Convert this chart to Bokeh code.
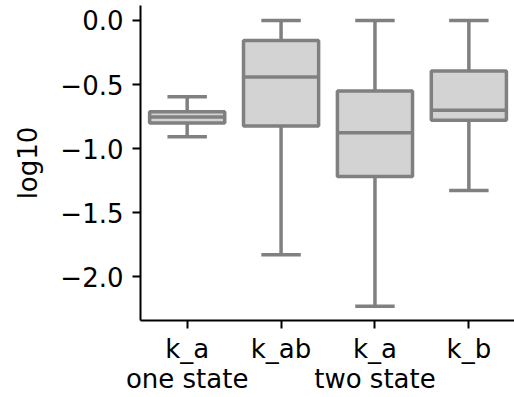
from bokeh.plotting import figure
from bokeh.models import FixedTicker, ColumnDataSource
from bokeh.embed import file_html
from bokeh.resources import INLINE

# ---- data ----
categories = ["k_a\none state", "k_ab", "k_a\ntwo state", "k_b"]
whisker_low = [-0.907, -1.827, -2.229, -1.327]
q1 = [-0.800, -0.824, -1.218, -0.778]
median = [-0.754, -0.441, -0.876, -0.700]
q3 = [-0.713, -0.156, -0.550, -0.394]
whisker_high = [-0.596, 0.0, 0.0, 0.0]
y_ticks = [0.0, -0.5, -1.0, -1.5, -2.0]
y_tick_labels = ["0.0", "\u22120.5", "\u22121.0", "\u22121.5", "\u22122.0"]

pos = list(range(len(categories)))
box_w = 0.8
cap_w = 0.42

src = ColumnDataSource(dict(
    x=pos,
    left=[p - box_w / 2 for p in pos], right=[p + box_w / 2 for p in pos],
    cl=[p - cap_w / 2 for p in pos], cr=[p + cap_w / 2 for p in pos],
    lo=whisker_low, q1=q1, med=median, q3=q3, hi=whisker_high,
))

FONT = "DejaVu Sans"
FS = "26px"
EDGE = "#808080"
FILL = "#d3d3d3"
LW = 3.5

p = figure(width=514, height=397, output_backend="svg", toolbar_location=None,
           x_range=(-0.497, 3.486), y_range=(-2.3406, 0.1166),
           min_border_left=140, min_border_right=0, min_border_top=5,
           min_border_bottom=76)
p.outline_line_color = None
p.grid.visible = False
p.background_fill_color = "white"
p.border_fill_color = "white"

# whiskers
p.segment(x0="x", y0="q3", x1="x", y1="hi", source=src, line_color=EDGE, line_width=LW)
p.segment(x0="x", y0="q1", x1="x", y1="lo", source=src, line_color=EDGE, line_width=LW)
# caps
p.segment(x0="cl", y0="hi", x1="cr", y1="hi", source=src, line_color=EDGE, line_width=LW)
p.segment(x0="cl", y0="lo", x1="cr", y1="lo", source=src, line_color=EDGE, line_width=LW)
# boxes
p.quad(left="left", right="right", bottom="q1", top="q3", source=src,
       fill_color=FILL, line_color=EDGE, line_width=LW)
# medians
p.segment(x0="left", y0="med", x1="right", y1="med", source=src, line_color=EDGE, line_width=LW)

# axes
for ax in (p.xaxis[0], p.yaxis[0]):
    ax.axis_line_width = 2
    ax.axis_line_color = "black"
    ax.major_tick_line_width = 2
    ax.major_tick_line_color = "black"
    ax.major_tick_out = 8
    ax.major_tick_in = 0
    ax.minor_tick_line_color = None
    ax.major_label_text_font = FONT
    ax.major_label_text_font_size = FS
    ax.major_label_text_color = "black"

p.xaxis.ticker = FixedTicker(ticks=pos)
p.xaxis.major_label_overrides = {i: c for i, c in zip(pos, categories)}
p.xaxis.major_label_standoff = 5
p.xaxis.major_label_text_line_height = 1.03

p.yaxis.ticker = FixedTicker(ticks=y_ticks)
p.yaxis.major_label_overrides = {t: l for t, l in zip(y_ticks, y_tick_labels)}
p.yaxis.major_label_standoff = 9
p.yaxis.axis_label = "log10"
p.yaxis.axis_label_text_font = FONT
p.yaxis.axis_label_text_font_size = FS
p.yaxis.axis_label_text_font_style = "normal"
p.yaxis.axis_label_text_color = "black"
p.yaxis.axis_label_standoff = 14

open("out.html", "w").write(file_html(p, INLINE))
